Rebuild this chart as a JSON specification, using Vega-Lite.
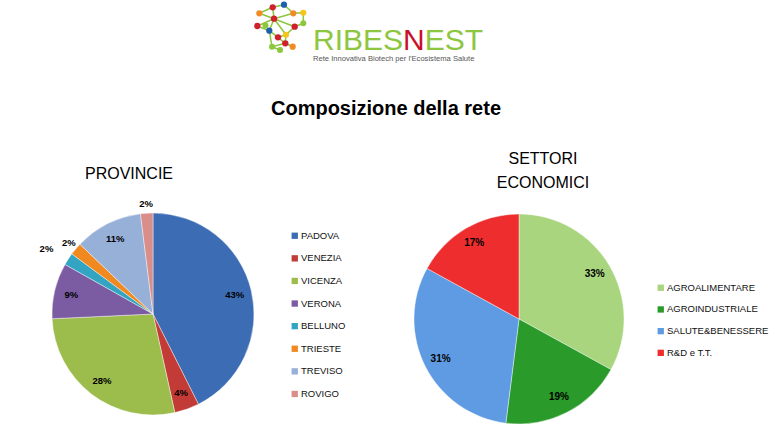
{
  "$schema": "https://vega.github.io/schema/vega-lite/v6.json",
  "padding": 0,
  "background": "white",
  "bounds": "flush",
  "spacing": 138,
  "config": {"view": {"stroke": null}},
  "datasets": {
    "prov": [
      {"p": "PADOVA", "v": 0.43, "k": 1},
      {"p": "VENEZIA", "v": 0.04, "k": 2},
      {"p": "VICENZA", "v": 0.28, "k": 3},
      {"p": "VERONA", "v": 0.09, "k": 4},
      {"p": "BELLUNO", "v": 0.02, "k": 5},
      {"p": "TRIESTE", "v": 0.02, "k": 6},
      {"p": "TREVISO", "v": 0.11, "k": 7},
      {"p": "ROVIGO", "v": 0.02, "k": 8}
    ],
    "sett": [
      {"s": "AGROALIMENTARE", "v": 0.33, "k": 1},
      {"s": "AGROINDUSTRIALE", "v": 0.19, "k": 2},
      {"s": "SALUTE&BENESSERE", "v": 0.31, "k": 3},
      {"s": "R&D e T.T.", "v": 0.17, "k": 4}
    ],
    "nodes": [
      {"x": 259.3, "y": 13.3, "c": "orange"},
      {"x": 272.7, "y": 7.3, "c": "red"},
      {"x": 284, "y": 4.7, "c": "blue"},
      {"x": 293.3, "y": 13.3, "c": "orange"},
      {"x": 303.3, "y": 12.7, "c": "yellow"},
      {"x": 274, "y": 18.7, "c": "red"},
      {"x": 257.3, "y": 26, "c": "red"},
      {"x": 269.3, "y": 30.7, "c": "blue"},
      {"x": 294.7, "y": 26.7, "c": "red"},
      {"x": 303.3, "y": 23.3, "c": "green"},
      {"x": 278, "y": 37.3, "c": "red"},
      {"x": 286, "y": 34.7, "c": "yellow"},
      {"x": 285.3, "y": 43.3, "c": "red"},
      {"x": 272, "y": 46.7, "c": "green"},
      {"x": 292.7, "y": 46.7, "c": "orange"},
      {"x": 280, "y": 50, "c": "green"},
      {"x": 265.5, "y": 25.5, "c": "green"}
    ],
    "edges": [
      {"x": 259.3, "y": 13.3, "x2": 272.7, "y2": 7.3},
      {"x": 272.7, "y": 7.3, "x2": 284, "y2": 4.7},
      {"x": 272.7, "y": 7.3, "x2": 274, "y2": 18.7},
      {"x": 284, "y": 4.7, "x2": 293.3, "y2": 13.3},
      {"x": 293.3, "y": 13.3, "x2": 303.3, "y2": 12.7},
      {"x": 293.3, "y": 13.3, "x2": 274, "y2": 18.7},
      {"x": 274, "y": 18.7, "x2": 257.3, "y2": 26},
      {"x": 274, "y": 18.7, "x2": 269.3, "y2": 30.7},
      {"x": 274, "y": 18.7, "x2": 294.7, "y2": 26.7},
      {"x": 257.3, "y": 26, "x2": 269.3, "y2": 30.7},
      {"x": 259.3, "y": 13.3, "x2": 274, "y2": 18.7},
      {"x": 269.3, "y": 30.7, "x2": 278, "y2": 37.3},
      {"x": 294.7, "y": 26.7, "x2": 303.3, "y2": 23.3},
      {"x": 303.3, "y": 12.7, "x2": 303.3, "y2": 23.3},
      {"x": 294.7, "y": 26.7, "x2": 286, "y2": 34.7},
      {"x": 278, "y": 37.3, "x2": 286, "y2": 34.7},
      {"x": 278, "y": 37.3, "x2": 285.3, "y2": 43.3},
      {"x": 286, "y": 34.7, "x2": 285.3, "y2": 43.3},
      {"x": 285.3, "y": 43.3, "x2": 272, "y2": 46.7},
      {"x": 285.3, "y": 43.3, "x2": 292.7, "y2": 46.7},
      {"x": 269.3, "y": 30.7, "x2": 272, "y2": 46.7},
      {"x": 272, "y": 46.7, "x2": 280, "y2": 50},
      {"x": 274, "y": 18.7, "x2": 286, "y2": 34.7}
    ]
  },
  "vconcat": [
    {
      "width": 776,
      "height": 62,
      "title": {
        "text": "Composizione della rete",
        "orient": "bottom",
        "anchor": "middle",
        "font": "Liberation Sans",
        "fontSize": 20,
        "fontWeight": "bold",
        "color": "#000",
        "offset": 36,
        "dx": -2
      },
      "layer": [
        {
          "data": {"name": "edges"},
          "mark": {"type": "rule", "color": "#8DC63F", "strokeWidth": 1.5},
          "encoding": {
            "x": {"field": "x", "type": "quantitative", "scale": {"domain": [0, 776], "nice": false, "zero": false}, "axis": null},
            "y": {"field": "y", "type": "quantitative", "scale": {"domain": [0, 62], "nice": false, "zero": false, "reverse": true}, "axis": null},
            "x2": {"field": "x2"},
            "y2": {"field": "y2"}
          }
        },
        {
          "data": {"name": "nodes"},
          "mark": {"type": "circle", "opacity": 1},
          "encoding": {
            "x": {"field": "x", "type": "quantitative"},
            "y": {"field": "y", "type": "quantitative"},
            "color": {"field": "c", "type": "nominal", "scale": {"domain": ["red", "blue", "orange", "yellow", "green"], "range": ["#D0202E", "#1F5FB0", "#F08A24", "#F5C518", "#8DC63F"]}, "legend": null},
            "size": {"field": "c", "type": "nominal", "scale": {"domain": ["red", "blue", "orange", "yellow", "green"], "range": [40, 36, 26, 34, 16]}, "legend": null}
          }
        },
        {
          "data": {"values": [{"t": "RIBES"}]},
          "mark": {"type": "text", "align": "right", "baseline": "alphabetic", "font": "Liberation Sans", "fontSize": 30, "color": "#8DC63F"},
          "encoding": {"x": {"datum": 403}, "y": {"datum": 49.5}, "text": {"field": "t"}}
        },
        {
          "data": {"values": [{"t": "N"}]},
          "mark": {"type": "text", "align": "left", "baseline": "alphabetic", "font": "Liberation Sans", "fontSize": 30, "color": "#C8102E"},
          "encoding": {"x": {"datum": 403}, "y": {"datum": 49.5}, "text": {"field": "t"}}
        },
        {
          "data": {"values": [{"t": "EST"}]},
          "mark": {"type": "text", "align": "left", "baseline": "alphabetic", "font": "Liberation Sans", "fontSize": 30, "color": "#8DC63F"},
          "encoding": {"x": {"datum": 424.7}, "y": {"datum": 49.5}, "text": {"field": "t"}}
        },
        {
          "data": {"values": [{"t": "Rete Innovativa Biotech per l'Ecosistema Salute"}]},
          "mark": {"type": "text", "align": "left", "baseline": "middle", "font": "Liberation Sans", "fontSize": 7.6, "color": "#555"},
          "encoding": {"x": {"datum": 313}, "y": {"datum": 59.3}, "text": {"field": "t"}}
        }
      ]
    },
    {
      "bounds": "flush",
      "spacing": 0,
      "hconcat": [
        {
          "width": 306,
          "height": 228,
          "data": {"name": "prov"},
          "title": {"text": "PROVINCIE", "anchor": "middle", "font": "Liberation Sans", "fontSize": 16, "fontWeight": "normal", "color": "#000", "dx": -24, "offset": 4},
          "encoding": {
            "theta": {"field": "v", "type": "quantitative", "stack": true},
            "order": {"field": "k", "type": "quantitative"}
          },
          "layer": [
            {
              "mark": {"type": "arc", "outerRadius": 101, "stroke": "#ffffff", "strokeWidth": 0.6, "strokeOpacity": 0.7},
              "encoding": {
                "color": {
                  "field": "p", "type": "nominal",
                  "scale": {
                    "domain": ["PADOVA", "VENEZIA", "VICENZA", "VERONA", "BELLUNO", "TRIESTE", "TREVISO", "ROVIGO"],
                    "range": ["#3C6DB4", "#C23B36", "#9CBC4C", "#7B5CA3", "#33A5C3", "#F0891F", "#97B0D8", "#D98E8C"]
                  },
                  "legend": {"orient": "none", "legendX": 290, "legendY": 31, "title": null, "symbolType": "square", "symbolSize": 40, "symbolStrokeWidth": 0, "labelFont": "Liberation Sans", "labelFontSize": 9.5, "labelColor": "#111", "rowPadding": 11.6, "labelOffset": 1.5, "padding": 0}
                }
              }
            },
            {
              "mark": {"type": "text", "radius": 84, "font": "Liberation Sans", "fontSize": 9.5, "fontWeight": "bold", "color": "#000"},
              "encoding": {
                "text": {"field": "v", "format": ".0%"},
                "opacity": {"condition": {"test": "datum.v >= 0.04", "value": 1}, "value": 0}
              }
            },
            {
              "mark": {"type": "text", "radius": 110, "font": "Liberation Sans", "fontSize": 9.5, "fontWeight": "bold", "color": "#000"},
              "encoding": {
                "text": {"field": "v", "format": ".0%"},
                "opacity": {"condition": {"test": "datum.v < 0.04 && datum.p != 'BELLUNO'", "value": 1}, "value": 0}
              }
            },
            {
              "mark": {"type": "text", "radius": 127, "font": "Liberation Sans", "fontSize": 9.5, "fontWeight": "bold", "color": "#000", "dy": 4},
              "encoding": {
                "text": {"field": "v", "format": ".0%"},
                "opacity": {"condition": {"test": "datum.p == 'BELLUNO'", "value": 1}, "value": 0}
              }
            }
          ]
        },
        {
          "width": 426,
          "height": 238,
          "data": {"name": "sett"},
          "title": {"text": ["SETTORI", "ECONOMICI"], "anchor": "middle", "font": "Liberation Sans", "fontSize": 16, "fontWeight": "normal", "color": "#000", "lineHeight": 24, "dx": 24, "offset": 9},
          "encoding": {
            "theta": {"field": "v", "type": "quantitative", "stack": true},
            "order": {"field": "k", "type": "quantitative"}
          },
          "layer": [
            {
              "mark": {"type": "arc", "outerRadius": 105, "stroke": "#ffffff", "strokeWidth": 0.6, "strokeOpacity": 0.7},
              "encoding": {
                "color": {
                  "field": "s", "type": "nominal",
                  "scale": {
                    "domain": ["AGROALIMENTARE", "AGROINDUSTRIALE", "SALUTE&BENESSERE", "R&D e T.T."],
                    "range": ["#A8D57E", "#2A9A2A", "#5E9BE3", "#EE2D2E"]
                  },
                  "legend": {"orient": "none", "legendX": 350, "legendY": 83, "title": null, "symbolType": "square", "symbolSize": 40, "symbolStrokeWidth": 0, "labelFont": "Liberation Sans", "labelFontSize": 9.5, "labelColor": "#111", "rowPadding": 10.7, "labelOffset": 1.5, "padding": 0}
                }
              }
            },
            {
              "mark": {"type": "text", "radius": 88, "font": "Liberation Sans", "fontSize": 10, "fontWeight": "bold", "color": "#000"},
              "encoding": {
                "text": {"field": "v", "format": ".0%"}
              }
            }
          ]
        }
      ],
      "resolve": {"scale": {"color": "independent", "theta": "independent"}, "legend": {"color": "independent"}}
    }
  ]
}
